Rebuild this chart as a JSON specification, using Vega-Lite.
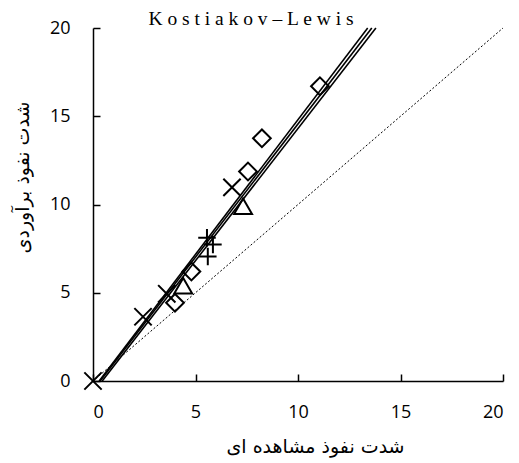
{
  "$schema": "https://vega.github.io/schema/vega-lite/v6.json",
  "width": 410,
  "height": 353,
  "autosize": "none",
  "padding": {"left": 93, "top": 28, "right": 16, "bottom": 82},
  "background": "white",
  "title": {
    "text": "K o s t i a k o v – L e w i s",
    "font": "Liberation Serif",
    "fontSize": 19.5,
    "fontWeight": "normal",
    "color": "#000",
    "anchor": "middle",
    "frame": "group",
    "dx": -47,
    "baseline": "alphabetic",
    "offset": -25
  },
  "config": {
    "view": {"stroke": null},
    "axis": {
      "domainColor": "#000",
      "domainWidth": 1.5,
      "tickColor": "#000",
      "tickWidth": 1.5,
      "tickSize": -7,
      "grid": false,
      "labelFont": "Open Sans",
      "labelFontSize": 18,
      "labelColor": "#000",
      "titleFont": "DejaVu Sans",
      "titleFontSize": 19,
      "titleFontWeight": "normal",
      "titleColor": "#000",
      "titleBaseline": "middle"
    }
  },
  "datasets": {
    "pts": [
      {"x": 0, "y": 0, "m": "x"},
      {"x": 2.44, "y": 3.64, "m": "x"},
      {"x": 3.6, "y": 4.94, "m": "x"},
      {"x": 6.78, "y": 10.97, "m": "x"},
      {"x": 5.56, "y": 8.12, "m": "p"},
      {"x": 5.85, "y": 7.73, "m": "p"},
      {"x": 5.6, "y": 7.05, "m": "p"},
      {"x": 11.07, "y": 16.7, "m": "d"},
      {"x": 8.24, "y": 13.75, "m": "d"},
      {"x": 7.56, "y": 11.87, "m": "d"},
      {"x": 4.0, "y": 4.43, "m": "d"},
      {"x": 4.8, "y": 6.2, "m": "d"},
      {"x": 7.32, "y": 9.9, "m": "t"},
      {"x": 4.4, "y": 5.4, "m": "t"}
    ],
    "lines": [
      {"x": 0.3, "y": 0, "k": "a"},
      {"x": 13.4, "y": 20, "k": "a"},
      {"x": 0.35, "y": 0, "k": "b"},
      {"x": 13.6, "y": 20, "k": "b"},
      {"x": 0.45, "y": 0, "k": "c"},
      {"x": 13.8, "y": 20, "k": "c"}
    ],
    "oneone": [
      {"x": 0, "y": 0},
      {"x": 20, "y": 20}
    ]
  },
  "layer": [
    {
      "data": {"name": "oneone"},
      "mark": {"type": "line", "color": "#000", "strokeWidth": 1, "strokeDash": [2, 2]},
      "encoding": {
        "x": {"field": "x", "type": "quantitative", "scale": {"domain": [0, 20], "nice": false},
          "axis": {"values": [0, 5, 10, 15, 20], "title": "شدت نفوذ مشاهده ای", "labelPadding": 29, "titleX": 222, "titleY": 65, "titleAnchor": "middle"}},
        "y": {"field": "y", "type": "quantitative", "scale": {"domain": [0, 20], "nice": false},
          "axis": {"values": [0, 5, 10, 15, 20], "title": "شدت نفوذ برآوردی", "labelPadding": 30, "titleX": -71, "titleY": 149, "titleAnchor": "middle"}}
      }
    },
    {
      "data": {"name": "lines"},
      "mark": {"type": "line", "color": "#000", "strokeWidth": 1.6},
      "encoding": {
        "x": {"field": "x", "type": "quantitative"},
        "y": {"field": "y", "type": "quantitative"},
        "detail": {"field": "k"}
      }
    },
    {
      "data": {"name": "pts"},
      "mark": {"type": "point", "filled": false, "stroke": "#000", "strokeWidth": 2, "opacity": 1},
      "encoding": {
        "x": {"field": "x", "type": "quantitative"},
        "y": {"field": "y", "type": "quantitative"},
        "shape": {"field": "m", "type": "nominal", "legend": null,
          "scale": {"domain": ["x", "p", "d", "t"], "range": ["M-1,-1L1,1M-1,1L1,-1", "M-1,0L1,0M0,-1L0,1", "diamond", "triangle-up"]}},
        "size": {"field": "m", "type": "nominal", "legend": null,
          "scale": {"domain": ["x", "p", "d", "t"], "range": [300, 320, 200, 260]}}
      }
    }
  ]
}
